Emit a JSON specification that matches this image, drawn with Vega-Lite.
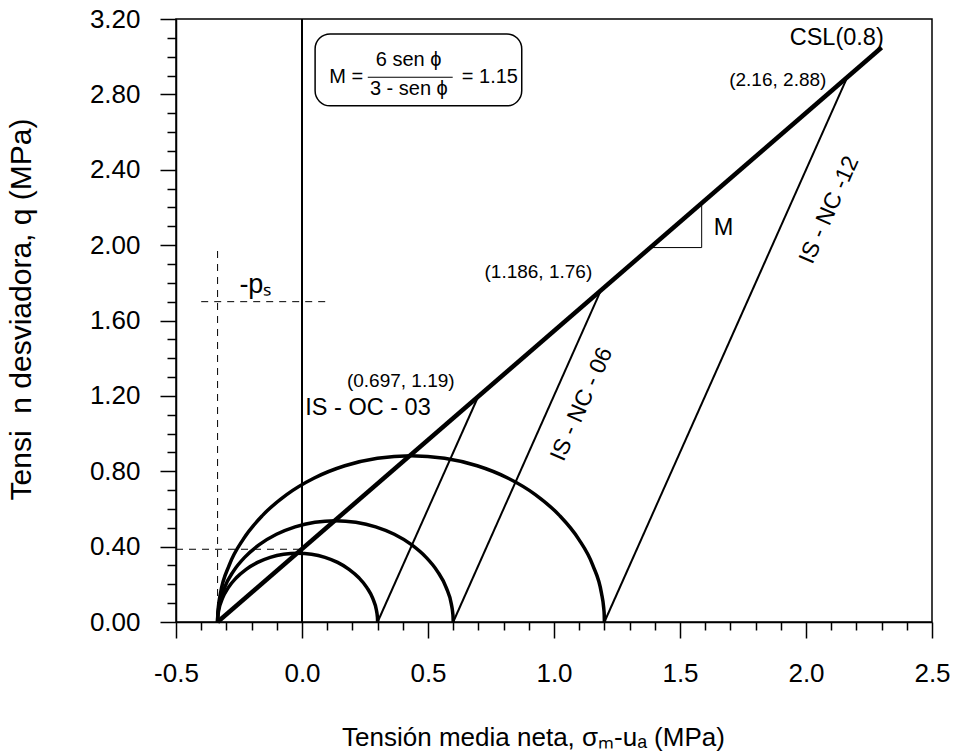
{
  "$schema": "https://vega.github.io/schema/vega-lite/v6.json",
  "width": 756,
  "height": 603,
  "autosize": {"type": "none"},
  "padding": {"left": 176, "top": 19, "right": 23, "bottom": 133},
  "background": "white",
  "config": {
    "view": {"stroke": "black", "strokeWidth": 1.5},
    "font": "Liberation Sans",
    "axis": {
      "grid": false,
      "domainColor": "black",
      "domainWidth": 1.5,
      "tickColor": "black",
      "tickWidth": 1.5,
      "labelColor": "black",
      "titleColor": "black",
      "titleFontWeight": "normal",
      "labelFont": "Liberation Sans",
      "titleFont": "Liberation Sans",
      "labelFlush": false,
      "labelOverlap": false,
      "labelBound": false
    }
  },
  "datasets": {
    "csl": [{"p": -0.335, "q": 0}, {"p": 2.3, "q": 3.049}],
    "paths": [
      {"s": "IS-OC-03", "p": 0.3, "q": 0}, {"s": "IS-OC-03", "p": 0.697, "q": 1.19},
      {"s": "IS-NC-06", "p": 0.6, "q": 0}, {"s": "IS-NC-06", "p": 1.186, "q": 1.76},
      {"s": "IS-NC-12", "p": 1.2, "q": 0}, {"s": "IS-NC-12", "p": 2.16, "q": 2.88}
    ],
    "ellipses": [
      {"e": "A", "p": 0.3, "q": 0}, {"e": "A", "p": 0.2997, "q": 0.01593}, {"e": "A", "p": 0.29879, "q": 0.03182}, {"e": "A", "p": 0.29518, "q": 0.0634}, {"e": "A", "p": 0.28085, "q": 0.12488}, {"e": "A", "p": 0.25746, "q": 0.18256}, {"e": "A", "p": 0.22572, "q": 0.2347}, {"e": "A", "p": 0.18659, "q": 0.2797}, {"e": "A", "p": 0.14125, "q": 0.31621}, {"e": "A", "p": 0.09109, "q": 0.3431}, {"e": "A", "p": 0.03763, "q": 0.35958}, {"e": "A", "p": -0.0175, "q": 0.36513}, {"e": "A", "p": -0.07263, "q": 0.35958}, {"e": "A", "p": -0.12609, "q": 0.3431}, {"e": "A", "p": -0.17625, "q": 0.31621}, {"e": "A", "p": -0.22159, "q": 0.2797}, {"e": "A", "p": -0.26072, "q": 0.2347}, {"e": "A", "p": -0.29246, "q": 0.18256}, {"e": "A", "p": -0.31585, "q": 0.12488}, {"e": "A", "p": -0.33018, "q": 0.0634}, {"e": "A", "p": -0.33379, "q": 0.03182}, {"e": "A", "p": -0.3347, "q": 0.01593}, {"e": "A", "p": -0.335, "q": 0},
      {"e": "B", "p": 0.6, "q": 0}, {"e": "B", "p": 0.59956, "q": 0.02345}, {"e": "B", "p": 0.59822, "q": 0.04686}, {"e": "B", "p": 0.5929, "q": 0.09336}, {"e": "B", "p": 0.57181, "q": 0.18388}, {"e": "B", "p": 0.53737, "q": 0.26881}, {"e": "B", "p": 0.49062, "q": 0.34558}, {"e": "B", "p": 0.433, "q": 0.41184}, {"e": "B", "p": 0.36625, "q": 0.4656}, {"e": "B", "p": 0.29239, "q": 0.5052}, {"e": "B", "p": 0.21368, "q": 0.52946}, {"e": "B", "p": 0.1325, "q": 0.53763}, {"e": "B", "p": 0.05132, "q": 0.52946}, {"e": "B", "p": -0.02739, "q": 0.5052}, {"e": "B", "p": -0.10125, "q": 0.4656}, {"e": "B", "p": -0.168, "q": 0.41184}, {"e": "B", "p": -0.22562, "q": 0.34558}, {"e": "B", "p": -0.27237, "q": 0.26881}, {"e": "B", "p": -0.30681, "q": 0.18388}, {"e": "B", "p": -0.3279, "q": 0.09336}, {"e": "B", "p": -0.33322, "q": 0.04686}, {"e": "B", "p": -0.33456, "q": 0.02345}, {"e": "B", "p": -0.335, "q": 0},
      {"e": "C", "p": 1.2, "q": 0}, {"e": "C", "p": 1.19927, "q": 0.0385}, {"e": "C", "p": 1.19708, "q": 0.07693}, {"e": "C", "p": 1.18834, "q": 0.15327}, {"e": "C", "p": 1.15371, "q": 0.30188}, {"e": "C", "p": 1.09718, "q": 0.44131}, {"e": "C", "p": 1.02044, "q": 0.56734}, {"e": "C", "p": 0.92584, "q": 0.67613}, {"e": "C", "p": 0.81625, "q": 0.76438}, {"e": "C", "p": 0.695, "q": 0.82939}, {"e": "C", "p": 0.56578, "q": 0.86922}, {"e": "C", "p": 0.4325, "q": 0.88263}, {"e": "C", "p": 0.29922, "q": 0.86922}, {"e": "C", "p": 0.17, "q": 0.82939}, {"e": "C", "p": 0.04875, "q": 0.76438}, {"e": "C", "p": -0.06084, "q": 0.67613}, {"e": "C", "p": -0.15544, "q": 0.56734}, {"e": "C", "p": -0.23218, "q": 0.44131}, {"e": "C", "p": -0.28871, "q": 0.30188}, {"e": "C", "p": -0.32334, "q": 0.15327}, {"e": "C", "p": -0.33208, "q": 0.07693}, {"e": "C", "p": -0.33427, "q": 0.0385}, {"e": "C", "p": -0.335, "q": 0}
    ],
    "slope": [{"o": 1, "p": 1.382, "q": 1.987}, {"o": 2, "p": 1.586, "q": 1.987}, {"o": 3, "p": 1.586, "q": 2.222}],
    "dashed": [
      {"p": -0.335, "q": 0, "p2": -0.335, "q2": 2.0},
      {"p": -0.4, "q": 1.7, "p2": 0.1, "q2": 1.7},
      {"p": -0.5, "q": 0.386, "p2": 0.0, "q2": 0.386}
    ],
    "zeroline": [{"p": 0, "q": 0, "p2": 0, "q2": 3.2}],
    "box": [{"p": 0.052, "q": 2.739, "p2": 0.872, "q2": 3.121}],
    "fracbar": [{"p": 0.261, "q": 2.891, "p2": 0.598, "q2": 2.891}],
    "coords": [
      {"p": 1.888, "q": 2.877, "t": "(2.16, 2.88)"},
      {"p": 0.938, "q": 1.856, "t": "(1.186, 1.76)"},
      {"p": 0.392, "q": 1.281, "t": "(0.697, 1.19)"}
    ],
    "labels": [
      {"p": 0.262, "q": 1.134, "t": "IS - OC - 03"},
      {"p": 2.122, "q": 3.1, "t": "CSL(0.8)"},
      {"p": 1.673, "q": 2.089, "t": "M"}
    ],
    "ps": [{"p": -0.185, "q": 1.787, "t": "-pₛ"}],
    "rot": [
      {"p": 1.11, "q": 1.156, "t": "IS - NC - 06"},
      {"p": 2.092, "q": 2.187, "t": "IS - NC -12"}
    ],
    "formulaSide": [
      {"p": 0.108, "q": 2.89, "t": "M ="},
      {"p": 0.634, "q": 2.89, "t": "= 1.15"}
    ],
    "formulaFrac": [
      {"p": 0.423, "q": 2.981, "t": "6 sen ϕ"},
      {"p": 0.424, "q": 2.83, "t": "3 - sen ϕ"}
    ]
  },
  "encoding": {
    "x": {
      "field": "p", "type": "quantitative",
      "scale": {"domain": [-0.5, 2.5], "nice": false, "zero": false},
      "axis": {
        "values": [-0.5, -0.4, -0.3, -0.2, -0.1, 0, 0.1, 0.2, 0.3, 0.4, 0.5, 0.6, 0.7, 0.8, 0.9, 1.0, 1.1, 1.2, 1.3, 1.4, 1.5, 1.6, 1.7, 1.8, 1.9, 2.0, 2.1, 2.2, 2.3, 2.4, 2.5],
        "format": ".1f",
        "labelExpr": "abs(datum.value*2 - round(datum.value*2)) < 0.001 ? replace(datum.label, '\u2212', '-') : ''",
        "tickSize": {"condition": {"test": "abs(datum.value*2 - round(datum.value*2)) < 0.001", "value": 16}, "value": 8},
        "labelFontSize": 26,
        "labelPadding": 22,
        "title": "Tensión media neta, σₘ-uₐ (MPa)",
        "titleFontSize": 26,
        "titleBaseline": "middle",
        "titleAlign": "center",
        "titleX": 357,
        "titleY": 115
      }
    },
    "y": {
      "field": "q", "type": "quantitative",
      "scale": {"domain": [0, 3.2], "nice": false, "zero": false},
      "axis": {
        "values": [0, 0.1, 0.2, 0.3, 0.4, 0.5, 0.6, 0.7, 0.8, 0.9, 1.0, 1.1, 1.2, 1.3, 1.4, 1.5, 1.6, 1.7, 1.8, 1.9, 2.0, 2.1, 2.2, 2.3, 2.4, 2.5, 2.6, 2.7, 2.8, 2.9, 3.0, 3.1, 3.2],
        "format": ".2f",
        "labelExpr": "abs(datum.value/0.4 - round(datum.value/0.4)) < 0.001 ? datum.label : ''",
        "tickSize": {"condition": {"test": "abs(datum.value/0.4 - round(datum.value/0.4)) < 0.001", "value": 16}, "value": 9},
        "labelFontSize": 26,
        "labelPadding": 20,
        "title": "Tensi\u00a0\u00a0n desviadora, q (MPa)",
        "titleFontSize": 30,
        "titleBaseline": "middle",
        "titleX": -155,
        "titleY": 290
      }
    }
  },
  "layer": [
    {"data": {"name": "zeroline"}, "mark": {"type": "rule", "color": "black", "strokeWidth": 2}, "encoding": {"x2": {"field": "p2"}, "y2": {"field": "q2"}}},
    {"data": {"name": "dashed"}, "mark": {"type": "rule", "color": "black", "strokeWidth": 1, "strokeDash": [7, 6]}, "encoding": {"x2": {"field": "p2"}, "y2": {"field": "q2"}}},
    {"data": {"name": "ellipses"}, "mark": {"type": "line", "color": "black", "strokeWidth": 3.5, "interpolate": "monotone"}, "encoding": {"detail": {"field": "e"}}},
    {"data": {"name": "paths"}, "mark": {"type": "line", "color": "black", "strokeWidth": 2}, "encoding": {"detail": {"field": "s"}}},
    {"data": {"name": "csl"}, "mark": {"type": "line", "color": "black", "strokeWidth": 4.5}, "encoding": {}},
    {"data": {"name": "slope"}, "mark": {"type": "line", "color": "black", "strokeWidth": 1}, "encoding": {"order": {"field": "o"}}},
    {"data": {"name": "box"}, "mark": {"type": "rect", "fill": "white", "stroke": "black", "strokeWidth": 1.5, "cornerRadius": 15}, "encoding": {"x2": {"field": "p2"}, "y2": {"field": "q2"}}},
    {"data": {"name": "fracbar"}, "mark": {"type": "rule", "color": "black", "strokeWidth": 1.2}, "encoding": {"x2": {"field": "p2"}, "y2": {"field": "q2"}}},
    {"data": {"name": "coords"}, "mark": {"type": "text", "fontSize": 19, "color": "black", "align": "center", "baseline": "middle"}, "encoding": {"text": {"field": "t"}}},
    {"data": {"name": "labels"}, "mark": {"type": "text", "fontSize": 23.5, "color": "black", "align": "center", "baseline": "middle"}, "encoding": {"text": {"field": "t"}}},
    {"data": {"name": "ps"}, "mark": {"type": "text", "fontSize": 27, "color": "black", "align": "center", "baseline": "middle"}, "encoding": {"text": {"field": "t"}}},
    {"data": {"name": "rot"}, "mark": {"type": "text", "fontSize": 23, "color": "black", "align": "center", "baseline": "middle", "angle": 294}, "encoding": {"text": {"field": "t"}}},
    {"data": {"name": "formulaSide"}, "mark": {"type": "text", "fontSize": 20, "color": "black", "align": "left", "baseline": "middle"}, "encoding": {"text": {"field": "t"}}},
    {"data": {"name": "formulaFrac"}, "mark": {"type": "text", "fontSize": 20, "color": "black", "align": "center", "baseline": "middle"}, "encoding": {"text": {"field": "t"}}}
  ]
}
